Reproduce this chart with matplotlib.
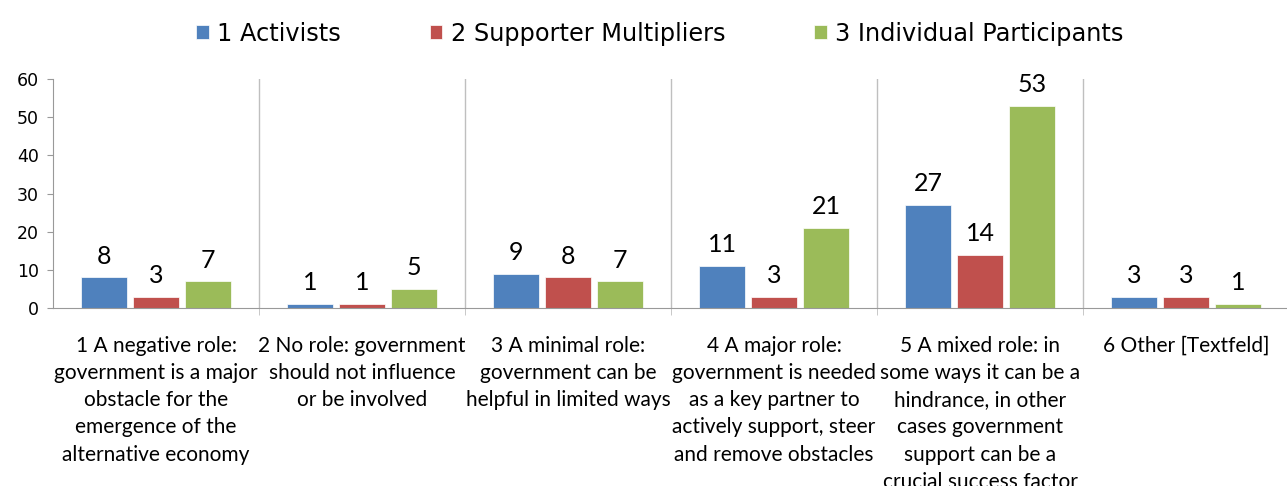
import numpy as np
import matplotlib.pyplot as plt
from matplotlib.ticker import FixedLocator

plt.rcParams['font.family'] = ['Lato', 'DejaVu Sans']

# data
categories = [
    "1 A negative role:\ngovernment is a major\nobstacle for the\nemergence of the\nalternative economy",
    "2 No role: government\nshould not influence\nor be involved",
    "3 A minimal role:\ngovernment can be\nhelpful in limited ways",
    "4 A major role:\ngovernment is needed\nas a key partner to\nactively support, steer\nand remove obstacles",
    "5 A mixed role: in\nsome ways it can be a\nhindrance, in other\ncases government\nsupport can be a\ncrucial success factor",
    "6 Other [Textfeld]",
]
series_names = ["1 Activists", "2 Supporter Multipliers", "3 Individual Participants"]
activists = [8, 1, 9, 11, 27, 3]
supporters = [3, 1, 8, 3, 14, 3]
participants = [7, 5, 7, 21, 53, 1]
colors = ["#4F81BD", "#C0504D", "#9BBB59"]

fig = plt.figure(figsize=(12.87, 4.86), dpi=100)
ax = fig.add_axes([53 / 1287, 178 / 486, 1236 / 1287, 229 / 486])

x = np.arange(len(categories))
slot = 0.252
width = 0.22

for k, (vals, name, col) in enumerate(zip([activists, supporters, participants], series_names, colors)):
    pos = x + (k - 1) * slot
    bars = ax.bar(pos, vals, width, color=col, label=name, edgecolor='white', linewidth=0.5)
    for b, v in zip(bars, vals):
        ax.annotate(str(v), (b.get_x() + b.get_width() / 2, v), xytext=(0, 7),
                    textcoords='offset points', ha='center', va='bottom', fontsize=18)

# separators between categories
for b in np.arange(0.5, len(categories) - 0.5, 1):
    ax.axvline(b, color='#bfbfbf', linewidth=1, zorder=0)

ax.set_xlim(-0.5, len(categories) - 0.5)
ax.set_ylim(0, 60)
ax.set_yticks(range(0, 61, 10))
ax.set_yticklabels([str(t) for t in range(0, 61, 10)], family='DejaVu Sans', fontsize=12.5)
ax.tick_params(axis='y', length=4, color='#999999', pad=6)

ax.set_xticks(x)
ax.set_xticklabels(categories, fontsize=15, linespacing=1.45, va='top')
ax.tick_params(axis='x', which='major', length=0, pad=20)
ax.xaxis.set_minor_locator(FixedLocator(np.arange(0.5, len(categories) - 0.5, 1)))
ax.tick_params(axis='x', which='minor', length=5, color='#bfbfbf')

for s in ['top', 'right']:
    ax.spines[s].set_visible(False)
ax.spines['left'].set_color('#999999')
ax.spines['bottom'].set_color('#999999')

fig.legend(loc='upper center', bbox_to_anchor=(0.5128, 1.0), ncol=3, frameon=False,
           prop={'family': 'DejaVu Sans', 'size': 17.3}, handlelength=0.52, handleheight=0.52,
           handletextpad=0.35, columnspacing=3.7)

fig.savefig('out.png', dpi=100)
